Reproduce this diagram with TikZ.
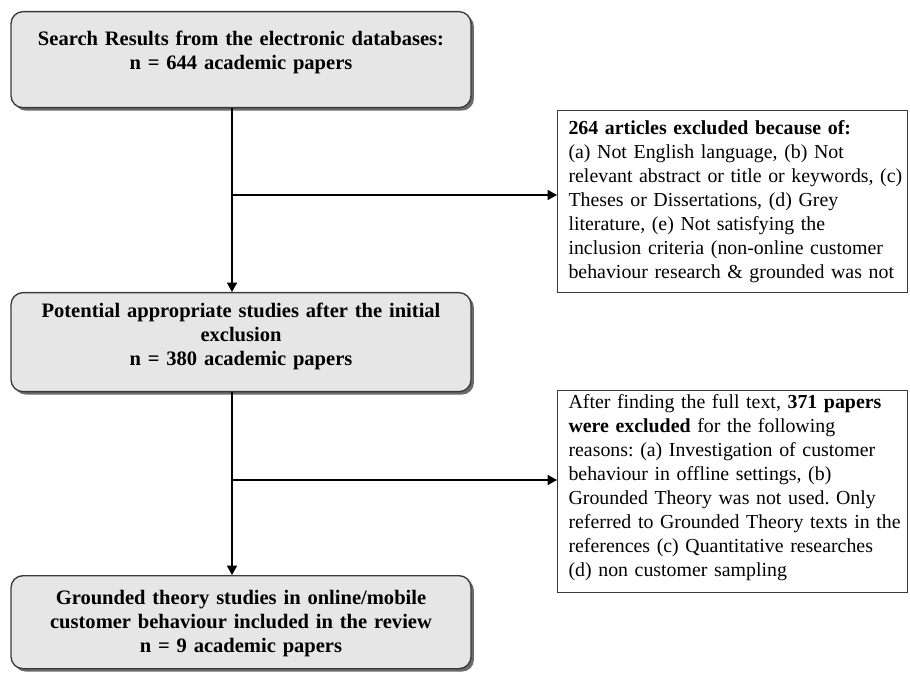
\documentclass[tikz,border=0pt]{standalone}
\usepackage{fontspec}
\setmainfont{Liberation Serif}
\usepackage{xcolor}
\usetikzlibrary{arrows.meta,shadows}
\definecolor{PRLine}{HTML}{3A3A3A}
\definecolor{PRFill}{HTML}{E6E6E6}
\definecolor{PRShade}{HTML}{5A5A5A}
\frenchspacing

\begin{document}
\begin{tikzpicture}[x=0.75pt,y=-0.75pt,
  stagebox/.style={draw=PRLine,line width=1pt,fill=PRFill,rounded corners=9pt,
    minimum width=345pt,inner xsep=12pt,inner ysep=0pt,text width=321pt,align=center,
    font=\bfseries\fontsize{15.4}{18}\selectfont,
    execute at begin node={\normalbaselineskip=18pt\baselineskip=18pt},
    drop shadow={shadow xshift=2.2pt,shadow yshift=-2.2pt,fill=PRShade,opacity=.9}},
  notebox/.style={draw=PRLine,line width=.8pt,fill=white,inner xsep=2.25pt,inner ysep=0pt,
    text width=258pt,align=left,font=\fontsize{14.9}{18}\selectfont,
    execute at begin node={\normalbaselineskip=18pt\baselineskip=18pt\leftskip=6pt}},
  flow/.style={-{Triangle[length=7pt,width=7.5pt]},line width=.9pt,draw=black}]
\path[use as bounding box] (0,0) rectangle (910,673);
\fill[white] (0,0) rectangle (910,673);
% main boxes
\node[stagebox,anchor=north,text height=25.5pt,text depth=46.5pt] (search) at (241,11)
  {Search Results from the electronic databases:\\ n = 644 academic papers};
\node[stagebox,anchor=north,text height=18.75pt,text depth=55.5pt] (potential) at (241,292)
  {Potential appropriate studies after the initial\\ exclusion\\ n = 380 academic papers};
\node[stagebox,anchor=north,text height=21.75pt,text depth=48pt] (included) at (241,575)
  {Grounded theory studies in online/mobile\\ customer behaviour included in the review\\ n = 9 academic papers};
% exclusion notes
\node[notebox,anchor=north west,text height=18pt,text depth=118.5pt] (excla) at (557,110)
  {\textbf{264 articles excluded because of:}\\
   (a) Not English language, (b) Not\\
   relevant abstract or title or keywords, (c)\\
   Theses or Dissertations, (d) Grey\\
   literature, (e) Not satisfying the\\
   inclusion criteria (non-online customer\\
   behaviour research \& grounded was not};
\node[notebox,anchor=north west,text height=13.5pt,text depth=138pt] (exclb) at (557,390)
  {After finding the full text, \textbf{371 papers}\\
   \textbf{were excluded} for the following\\
   reasons: (a) Investigation of customer\\
   behaviour in offline settings, (b)\\
   Grounded Theory was not used. Only\\
   referred to Grounded Theory texts in the\\
   references (c) Quantitative researches\\
   (d) non customer sampling};
% connectors
\coordinate (ja) at (232,195);
\coordinate (jb) at (232,480);
\draw[flow] (search.south -| ja) -- (potential.north -| ja);
\draw[flow] (potential.south -| jb) -- (included.north -| jb);
\draw[flow] (ja) -- (ja -| excla.west);
\draw[flow] (jb) -- (jb -| exclb.west);
\end{tikzpicture}
\end{document}
